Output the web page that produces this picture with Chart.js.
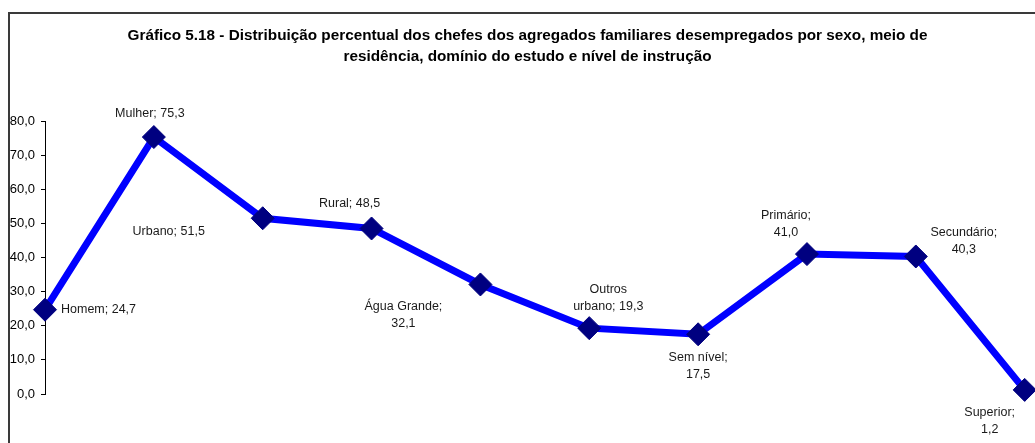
<!DOCTYPE html>
<html>
<head>
<meta charset="utf-8">
<script src="https://cdn.jsdelivr.net/npm/chart.js@4/dist/chart.umd.min.js"></script>
<style>
  html, body { margin: 0; padding: 0; background: #ffffff; }
  #wrap { width: 1035px; height: 443px; position: relative; }
</style>
</head>
<body>
<div id="wrap"><canvas id="c" width="1035" height="443"></canvas></div>
<script>
const titleLines = [
  'Gráfico 5.18 - Distribuição percentual dos chefes dos agregados familiares desempregados por sexo, meio de',
  'residência, domínio do estudo e nível de instrução'
];
const categories = ['Homem', 'Mulher', 'Urbano', 'Rural', 'Água Grande', 'Outros urbano', 'Sem nível', 'Primário', 'Secundário', 'Superior'];
const values = [24.7, 75.3, 51.5, 48.5, 32.1, 19.3, 17.5, 41.0, 40.3, 1.2];
const yTickValues = [0, 10, 20, 30, 40, 50, 60, 70, 80];

const fmt = v => v.toFixed(1).replace('.', ',');

// label placement (style only): dx, dy of first line, alignment, wrapped or not
const labelPlacement = [
  { dx: 16, dy: 0, align: 'left', wrap: false },
  { dx: -4, dy: -23, align: 'center', wrap: false },
  { dx: -94, dy: 13, align: 'center', wrap: false },
  { dx: -22, dy: -25, align: 'center', wrap: false },
  { dx: -77, dy: 22, align: 'center', wrap: true },
  { dx: 19, dy: -39, align: 'center', wrap: true, splitWord: true },
  { dx: 0, dy: 23, align: 'center', wrap: true },
  { dx: -21, dy: -39, align: 'center', wrap: true },
  { dx: 48, dy: -24, align: 'center', wrap: true },
  { dx: -35, dy: 23, align: 'center', wrap: true }
];

const borderPlugin = {
  id: 'frame',
  afterLayout(chart) {
    if (chart.titleBlock) {
      chart.titleBlock.left += 10;
      chart.titleBlock.right += 10;
    }
  },
  beforeDraw(chart) {
    const ctx = chart.ctx;
    ctx.save();
    ctx.fillStyle = '#ffffff';
    ctx.fillRect(0, 0, chart.width, chart.height);
    ctx.strokeStyle = '#3a3a3a';
    ctx.lineWidth = 2;
    ctx.strokeRect(9, 13, 1100, 500);
    ctx.restore();
  }
};

const labelPlugin = {
  id: 'pointLabels',
  afterDatasetsDraw(chart) {
    const ctx = chart.ctx;
    const meta = chart.getDatasetMeta(0);
    ctx.save();
    ctx.font = '12.5px "Liberation Sans", Arial, sans-serif';
    ctx.fillStyle = '#1a1a1a';
    ctx.textBaseline = 'middle';
    meta.data.forEach((pt, i) => {
      const p = labelPlacement[i];
      const cat = categories[i];
      const val = fmt(values[i]);
      let lines;
      if (!p.wrap) {
        lines = [cat + '; ' + val];
      } else if (p.splitWord) {
        const parts = cat.split(' ');
        lines = [parts[0], parts.slice(1).join(' ') + '; ' + val];
      } else {
        lines = [cat + ';', val];
      }
      ctx.textAlign = p.align;
      lines.forEach((ln, k) => {
        ctx.fillText(ln, pt.x + p.dx, pt.y + p.dy + k * 17);
      });
    });
    ctx.restore();
  }
};

new Chart(document.getElementById('c'), {
  type: 'line',
  data: {
    datasets: [{
      data: values.map((v, i) => ({ x: i, y: v })),
      borderColor: '#0000ff',
      borderWidth: 7,
      backgroundColor: '#000080',
      pointStyle: 'rectRot',
      pointRadius: 11.5,
      pointHoverRadius: 11.5,
      pointBackgroundColor: '#000080',
      pointBorderColor: '#000080',
      pointBorderWidth: 1,
      tension: 0,
      fill: false,
      clip: false
    }]
  },
  options: {
    responsive: false,
    animation: false,
    devicePixelRatio: 1,
    layout: { padding: { left: 0, right: 0, top: 0, bottom: 49 } },
    plugins: {
      legend: { display: false },
      tooltip: { enabled: false },
      title: {
        display: true,
        text: titleLines,
        color: '#000000',
        font: { family: '"Liberation Sans", Arial, sans-serif', size: 15.3, weight: 'bold', lineHeight: '21px' },
        padding: { top: 25, bottom: 54 }
      }
    },
    scales: {
      x: {
        type: 'linear',
        display: false,
        min: 0,
        max: 8.98
      },
      y: {
        min: 0,
        max: 80,
        afterFit(s) { s.width = 45; },
        afterBuildTicks(s) { s.ticks = yTickValues.map(v => ({ value: v })); },
        border: { display: true, color: '#000000', width: 1 },
        grid: { drawOnChartArea: false, drawTicks: true, tickLength: 4, color: '#000000' },
        ticks: {
          color: '#000000',
          padding: 6,
          font: { family: '"Liberation Sans", Arial, sans-serif', size: 13 },
          callback: v => fmt(v)
        }
      }
    }
  },
  plugins: [borderPlugin, labelPlugin]
});
</script>
</body>
</html>
